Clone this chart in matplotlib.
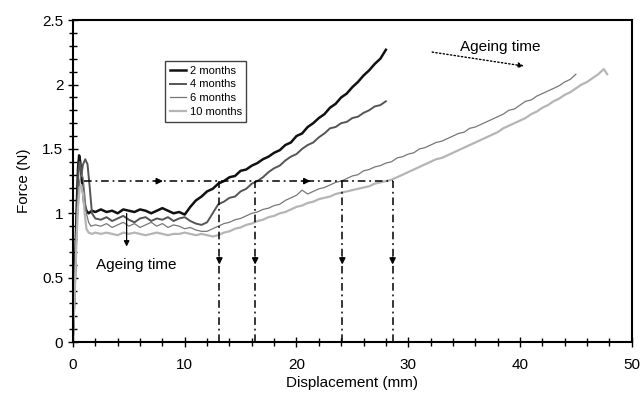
import matplotlib
matplotlib.use("Agg")
import matplotlib.pyplot as plt
from matplotlib.ticker import MultipleLocator

plt.rcParams["font.family"] = ["Liberation Sans", "DejaVu Sans"]

# curves as (displacement mm, force N)
months_2 = [
    (0.0, 0.05), (0.15, 0.45), (0.3, 0.95), (0.45, 1.35), (0.55, 1.45), (0.65, 1.40),
    (0.8, 1.25), (1.0, 1.08), (1.2, 1.02), (1.4, 1.00), (1.7, 1.02), (2.0, 1.01),
    (2.5, 1.03), (3.0, 1.01), (3.5, 1.02), (4.0, 1.00), (4.5, 1.03), (5.0, 1.02),
    (5.5, 1.01), (6.0, 1.03), (6.5, 1.02), (7.0, 1.00), (7.5, 1.02), (8.0, 1.04),
    (8.5, 1.02), (9.0, 1.00), (9.5, 1.01), (10.0, 0.99), (10.5, 1.05), (11.0, 1.10),
    (11.5, 1.13), (12.0, 1.17), (12.5, 1.19), (13.0, 1.23), (13.5, 1.25), (14.0, 1.28),
    (14.5, 1.29), (15.0, 1.33), (15.5, 1.34), (16.0, 1.37), (16.5, 1.39), (17.0, 1.42),
    (17.5, 1.44), (18.0, 1.47), (18.5, 1.49), (19.0, 1.53), (19.5, 1.55), (20.0, 1.60),
    (20.5, 1.62), (21.0, 1.67), (21.5, 1.70), (22.0, 1.74), (22.5, 1.77), (23.0, 1.82),
    (23.5, 1.85), (24.0, 1.90), (24.5, 1.93), (25.0, 1.98), (25.5, 2.02), (26.0, 2.07),
    (26.5, 2.11), (27.0, 2.16), (27.5, 2.20), (28.0, 2.27),
]
months_4 = [
    (0.0, 0.05), (0.2, 0.50), (0.35, 1.00), (0.5, 1.35), (0.6, 1.40), (0.75, 1.30),
    (0.9, 1.38), (1.1, 1.42), (1.3, 1.38), (1.5, 1.20), (1.7, 1.00), (2.0, 0.96),
    (2.5, 0.95), (3.0, 0.97), (3.5, 0.94), (4.0, 0.96), (4.5, 0.98), (5.0, 0.95),
    (5.5, 0.93), (6.0, 0.96), (6.5, 0.97), (7.0, 0.94), (7.5, 0.96), (8.0, 0.95),
    (8.5, 0.97), (9.0, 0.94), (9.5, 0.96), (10.0, 0.97), (10.5, 0.94), (11.0, 0.92),
    (11.5, 0.91), (12.0, 0.93), (12.5, 1.00), (13.0, 1.07), (13.5, 1.09), (14.0, 1.12),
    (14.5, 1.13), (15.0, 1.17), (15.5, 1.19), (16.0, 1.23), (16.5, 1.25), (17.0, 1.28),
    (17.5, 1.32), (18.0, 1.35), (18.5, 1.37), (19.0, 1.41), (19.5, 1.44), (20.0, 1.46),
    (20.5, 1.50), (21.0, 1.53), (21.5, 1.55), (22.0, 1.59), (22.5, 1.62), (23.0, 1.66),
    (23.5, 1.67), (24.0, 1.70), (24.5, 1.71), (25.0, 1.74), (25.5, 1.75), (26.0, 1.78),
    (26.5, 1.80), (27.0, 1.83), (27.5, 1.84), (28.0, 1.87),
]
months_6 = [
    (0.0, 0.05), (0.15, 0.40), (0.3, 0.80), (0.45, 1.10), (0.6, 1.25), (0.75, 1.30),
    (0.9, 1.28), (1.05, 1.15), (1.2, 1.00), (1.4, 0.93), (1.6, 0.90), (2.0, 0.91),
    (2.5, 0.90), (3.0, 0.92), (3.5, 0.89), (4.0, 0.91), (4.5, 0.93), (5.0, 0.90),
    (5.5, 0.92), (6.0, 0.89), (6.5, 0.91), (7.0, 0.93), (7.5, 0.90), (8.0, 0.92),
    (8.5, 0.89), (9.0, 0.91), (9.5, 0.90), (10.0, 0.88), (10.5, 0.89), (11.0, 0.87),
    (11.5, 0.86), (12.0, 0.86), (12.5, 0.88), (13.0, 0.90), (13.5, 0.92), (14.0, 0.93),
    (14.5, 0.95), (15.0, 0.96), (15.5, 0.98), (16.0, 1.00), (16.5, 1.01), (17.0, 1.03),
    (17.5, 1.04), (18.0, 1.06), (18.5, 1.07), (19.0, 1.10), (19.5, 1.12), (20.0, 1.14),
    (20.5, 1.18), (21.0, 1.15), (21.5, 1.17), (22.0, 1.19), (22.5, 1.20), (23.0, 1.22),
    (23.5, 1.24), (24.0, 1.25), (24.5, 1.27), (25.0, 1.29), (25.5, 1.30), (26.0, 1.33),
    (26.5, 1.34), (27.0, 1.36), (27.5, 1.37), (28.0, 1.39), (28.5, 1.40), (29.0, 1.43),
    (29.5, 1.44), (30.0, 1.46), (30.5, 1.47), (31.0, 1.50), (31.5, 1.51), (32.0, 1.53),
    (32.5, 1.55), (33.0, 1.56), (33.5, 1.58), (34.0, 1.60), (34.5, 1.62), (35.0, 1.63),
    (35.5, 1.66), (36.0, 1.67), (36.5, 1.69), (37.0, 1.71), (37.5, 1.73), (38.0, 1.75),
    (38.5, 1.77), (39.0, 1.80), (39.5, 1.81), (40.0, 1.84), (40.5, 1.87), (41.0, 1.88),
    (41.5, 1.91), (42.0, 1.93), (42.5, 1.95), (43.0, 1.97), (43.5, 1.99), (44.0, 2.02),
    (44.5, 2.04), (45.0, 2.08),
]
months_10 = [
    (0.0, 0.05), (0.15, 0.35), (0.3, 0.75), (0.45, 1.05), (0.6, 1.20), (0.75, 1.22),
    (0.9, 1.15), (1.05, 1.00), (1.2, 0.88), (1.4, 0.85), (1.7, 0.84), (2.0, 0.85),
    (2.5, 0.84), (3.0, 0.85), (3.5, 0.84), (4.0, 0.83), (4.5, 0.85), (5.0, 0.84),
    (5.5, 0.85), (6.0, 0.84), (6.5, 0.83), (7.0, 0.84), (7.5, 0.85), (8.0, 0.84),
    (8.5, 0.83), (9.0, 0.84), (9.5, 0.84), (10.0, 0.85), (10.5, 0.84), (11.0, 0.83),
    (11.5, 0.84), (12.0, 0.83), (12.5, 0.82), (13.0, 0.83), (13.5, 0.85), (14.0, 0.86),
    (14.5, 0.88), (15.0, 0.89), (15.5, 0.91), (16.0, 0.92), (16.5, 0.94), (17.0, 0.95),
    (17.5, 0.97), (18.0, 0.98), (18.5, 1.00), (19.0, 1.01), (19.5, 1.03), (20.0, 1.05),
    (20.5, 1.06), (21.0, 1.08), (21.5, 1.09), (22.0, 1.11), (22.5, 1.12), (23.0, 1.13),
    (23.5, 1.15), (24.0, 1.16), (24.5, 1.17), (25.0, 1.18), (25.5, 1.19), (26.0, 1.20),
    (26.5, 1.21), (27.0, 1.23), (27.5, 1.24), (28.0, 1.25), (28.5, 1.26), (29.0, 1.28),
    (29.5, 1.30), (30.0, 1.32), (30.5, 1.34), (31.0, 1.36), (31.5, 1.38), (32.0, 1.40),
    (32.5, 1.42), (33.0, 1.43), (33.5, 1.45), (34.0, 1.47), (34.5, 1.49), (35.0, 1.51),
    (35.5, 1.53), (36.0, 1.55), (36.5, 1.57), (37.0, 1.59), (37.5, 1.61), (38.0, 1.63),
    (38.5, 1.66), (39.0, 1.68), (39.5, 1.70), (40.0, 1.72), (40.5, 1.74), (41.0, 1.77),
    (41.5, 1.79), (42.0, 1.82), (42.5, 1.84), (43.0, 1.87), (43.5, 1.89), (44.0, 1.92),
    (44.5, 1.94), (45.0, 1.97), (45.5, 2.00), (46.0, 2.02), (46.5, 2.05), (47.0, 2.08),
    (47.5, 2.12), (47.8, 2.08),
]

labels = ["2 months", "4 months", "6 months", "10 months"]
colors = ["#111111", "#555555", "#777777", "#b5b5b5"]
widths = [1.8, 1.4, 0.9, 1.6]

# force level used to compare the curves, and where each one crosses it
ref_force = 1.25
ref_start = 1.0
crossings = [13.1, 16.3, 24.1, 28.6]

DASHDOT = (0, (5, 2.5, 1.2, 2.5))


def main() -> None:
    fig = plt.figure(figsize=(6.43, 3.95), dpi=100)
    ax = fig.add_axes([0.1135, 0.134, 0.869, 0.815])

    for data, label, color, lw in zip(
        [months_2, months_4, months_6, months_10], labels, colors, widths
    ):
        xs, ys = zip(*data)
        ax.plot(xs, ys, color=color, lw=lw, label=label)

    # dash-dot guide lines
    ax.plot([ref_start, crossings[-1]], [ref_force, ref_force],
            color="black", lw=1.1, ls=DASHDOT)
    for xc in crossings:
        ax.plot([xc, xc], [0, ref_force], color="black", lw=1.1, ls=DASHDOT)
        ax.annotate("", xy=(xc, 0.58), xytext=(xc, 0.68),
                    arrowprops=dict(arrowstyle="-|>", color="black", lw=1.1,
                                    mutation_scale=9))
    for xa in [7.7, 20.9]:
        ax.annotate("", xy=(xa + 0.6, ref_force), xytext=(xa - 0.6, ref_force),
                    arrowprops=dict(arrowstyle="-|>", color="black", lw=1.1,
                                    mutation_scale=9))

    # ageing time notes
    ax.annotate("", xy=(4.8, 0.72), xytext=(4.8, 1.02),
                arrowprops=dict(arrowstyle="-|>", color="black", lw=0.9,
                                mutation_scale=8))
    ax.text(2.1, 0.6, "Ageing time", fontsize=11, va="center", ha="left")
    ax.annotate("", xy=(40.6, 2.14), xytext=(31.9, 2.255),
                arrowprops=dict(arrowstyle="-|>", color="black", lw=1.0,
                                ls=":", mutation_scale=8))
    ax.text(34.6, 2.29, "Ageing time", fontsize=11, va="center", ha="left")

    ax.set_xlim(0, 50)
    ax.set_ylim(0, 2.5)
    ax.xaxis.set_major_locator(MultipleLocator(10))
    ax.xaxis.set_minor_locator(MultipleLocator(2))
    ax.yaxis.set_major_locator(MultipleLocator(0.5))
    ax.yaxis.set_minor_locator(MultipleLocator(0.1))
    ax.yaxis.set_major_formatter(plt.FuncFormatter(lambda v, p: f"{v:g}"))
    ax.tick_params(which="both", direction="inout", labelsize=11, width=1.0)
    ax.tick_params(which="major", length=7)
    ax.tick_params(which="minor", length=6)
    ax.tick_params(axis="x", pad=8)
    for s in ax.spines.values():
        s.set_linewidth(1.5)

    ax.set_xlabel("Displacement (mm)", fontsize=11, labelpad=3)
    ax.set_ylabel("Force (N)", fontsize=11, labelpad=8)

    leg = ax.legend(loc="upper left", bbox_to_anchor=(0.155, 0.89),
                    fontsize=8, handlelength=1.5, handletextpad=0.3,
                    borderpad=0.4, labelspacing=0.35, fancybox=False,
                    framealpha=1)
    leg.get_frame().set_edgecolor("#444444")
    leg.get_frame().set_linewidth(1.0)

    fig.savefig("out.png", dpi=100)


if __name__ == "__main__":
    main()
